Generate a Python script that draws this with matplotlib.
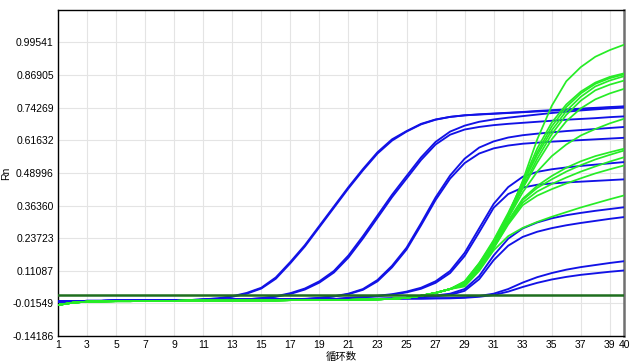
import numpy as np
import matplotlib
matplotlib.use('Agg')
import matplotlib.pyplot as plt

plt.rcParams['font.family'] = ['Liberation Sans', 'Noto Sans CJK SC', 'DejaVu Sans']

cycles = list(range(1, 41))
xticks = [1, 3, 5, 7, 9, 11, 13, 15, 17, 19, 21, 23, 25, 27, 29, 31, 33, 35, 37, 39, 40]
ytick_labels = ['-0.14186', '-0.01549', '0.11087', '0.23723', '0.36360',
                '0.48996', '0.61632', '0.74269', '0.86905', '0.99541']
threshold = 0.016

# baseline before amplification (cycles 1..30)
blue_base = [-0.008, -0.007, -0.006, -0.006, -0.005, -0.005, -0.004, -0.004, -0.003, -0.003,
             -0.002, -0.002, -0.001, -0.001, 0.0, 0.0, 0.0, 0.001, 0.001, 0.001,
             0.002, 0.002, 0.002, 0.003, 0.003, 0.003, 0.004, 0.004, 0.004, 0.005]
green_base = [-0.022, -0.013, -0.009, -0.008, -0.007, -0.007, -0.006, -0.006, -0.006, -0.005,
              -0.005, -0.005, -0.005, -0.004, -0.004, -0.004, -0.003, -0.003, -0.003, -0.002,
              -0.002, -0.001, 0.0, 0.002, 0.006, 0.014, 0.025, 0.04]

# standards (blue), amplified part from the given cycle on
std1a = blue_base[:10] + [0.0, 0.004, 0.012, 0.025, 0.045, 0.085, 0.145, 0.21, 0.285, 0.36,
                          0.435, 0.505, 0.57, 0.62, 0.652, 0.68, 0.697, 0.707, 0.713, 0.716,
                          0.719, 0.722, 0.725, 0.728, 0.731, 0.734, 0.737, 0.74, 0.743, 0.746]
std1b = blue_base[:10] + [0.0, 0.003, 0.01, 0.022, 0.042, 0.08, 0.14, 0.205, 0.28, 0.355,
                          0.43, 0.5, 0.565, 0.615, 0.65, 0.678, 0.696, 0.707, 0.713, 0.717,
                          0.72, 0.723, 0.726, 0.73, 0.733, 0.736, 0.739, 0.742, 0.745, 0.748]
std2a = blue_base[:13] + [0.0, 0.005, 0.012, 0.024, 0.042, 0.07, 0.11, 0.17, 0.245, 0.325,
                          0.405, 0.478, 0.55, 0.61, 0.65, 0.673, 0.688, 0.697, 0.704, 0.71,
                          0.716, 0.722, 0.727, 0.732, 0.736, 0.74, 0.743]
std2b = blue_base[:13] + [0.0, 0.004, 0.01, 0.021, 0.038, 0.065, 0.104, 0.162, 0.236, 0.316,
                          0.396, 0.468, 0.54, 0.6, 0.638, 0.658, 0.668, 0.675, 0.68, 0.684,
                          0.688, 0.692, 0.696, 0.699, 0.702, 0.706, 0.709]
std3a = blue_base[:17] + [0.002, 0.006, 0.012, 0.022, 0.04, 0.075, 0.13, 0.2, 0.295, 0.395,
                          0.48, 0.545, 0.588, 0.612, 0.627, 0.636, 0.642, 0.647, 0.652, 0.656,
                          0.66, 0.664, 0.668]
std3b = blue_base[:17] + [0.001, 0.005, 0.011, 0.02, 0.037, 0.07, 0.124, 0.193, 0.287, 0.385,
                          0.468, 0.528, 0.565, 0.585, 0.596, 0.603, 0.607, 0.611, 0.614, 0.617,
                          0.62, 0.623, 0.626]
std4a = blue_base[:20] + [0.006, 0.009, 0.014, 0.02, 0.03, 0.045, 0.07, 0.11, 0.18, 0.275,
                          0.37, 0.435, 0.475, 0.494, 0.504, 0.511, 0.517, 0.522, 0.527, 0.532]
std4b = blue_base[:20] + [0.005, 0.008, 0.012, 0.018, 0.027, 0.041, 0.064, 0.102, 0.168, 0.26,
                          0.355, 0.408, 0.433, 0.444, 0.449, 0.453, 0.456, 0.459, 0.462, 0.465]
std5a = blue_base[:24] + [0.006, 0.01, 0.015, 0.022, 0.04, 0.09, 0.17, 0.235, 0.275, 0.298,
                          0.314, 0.326, 0.335, 0.343, 0.35, 0.357]
std5b = blue_base[:24] + [0.005, 0.008, 0.012, 0.017, 0.033, 0.078, 0.152, 0.208, 0.242, 0.262,
                          0.276, 0.287, 0.296, 0.304, 0.312, 0.319]
std6a = blue_base[:27] + [0.005, 0.008, 0.013, 0.022, 0.04, 0.065, 0.086, 0.102, 0.115, 0.125,
                          0.133, 0.141, 0.148]
std6b = blue_base[:27] + [0.004, 0.006, 0.01, 0.017, 0.03, 0.048, 0.064, 0.077, 0.087, 0.095,
                          0.101, 0.107, 0.112]

# samples (green), from cycle 29 on
smp1 = green_base + [0.07, 0.14, 0.22, 0.32, 0.46, 0.62, 0.75, 0.845, 0.9, 0.94, 0.966, 0.987]
smp2 = green_base + [0.065, 0.135, 0.225, 0.33, 0.455, 0.585, 0.685, 0.755, 0.805, 0.84, 0.862, 0.876]
smp3 = green_base + [0.06, 0.13, 0.22, 0.325, 0.445, 0.57, 0.67, 0.745, 0.798, 0.835, 0.857, 0.872]
smp4 = green_base + [0.068, 0.14, 0.23, 0.335, 0.45, 0.56, 0.655, 0.73, 0.785, 0.825, 0.848, 0.865]
smp5 = green_base + [0.062, 0.13, 0.22, 0.32, 0.435, 0.545, 0.64, 0.715, 0.77, 0.81, 0.832, 0.848]
smp6 = green_base + [0.064, 0.132, 0.222, 0.322, 0.43, 0.53, 0.62, 0.69, 0.74, 0.775, 0.798, 0.816]
smp7 = green_base + [0.06, 0.125, 0.215, 0.315, 0.415, 0.495, 0.555, 0.6, 0.635, 0.66, 0.682, 0.7]
smp8 = green_base + [0.058, 0.12, 0.21, 0.305, 0.39, 0.44, 0.478, 0.51, 0.535, 0.555, 0.57, 0.584]
smp9 = green_base + [0.057, 0.118, 0.205, 0.3, 0.385, 0.432, 0.465, 0.495, 0.52, 0.542, 0.56, 0.577]
smp10 = green_base + [0.056, 0.116, 0.2, 0.295, 0.375, 0.418, 0.447, 0.472, 0.495, 0.515, 0.534, 0.551]
smp11 = green_base + [0.055, 0.114, 0.198, 0.29, 0.365, 0.402, 0.427, 0.449, 0.469, 0.488, 0.504, 0.519]
smp12 = green_base + [0.05, 0.11, 0.19, 0.245, 0.277, 0.3, 0.32, 0.338, 0.356, 0.372, 0.388, 0.403]

standards = [std1a, std1b, std2a, std2b, std3a, std3b, std4a, std4b, std5a, std5b, std6a, std6b]
samples = [smp1, smp2, smp3, smp4, smp5, smp6, smp7, smp8, smp9, smp10, smp11, smp12]

fig = plt.figure(figsize=(6.4, 3.64), dpi=100)
ax = fig.add_axes([0.0906, 0.077, 0.885, 0.896])

for Y in standards:
    ax.plot(cycles, Y, color='#1212e6', lw=1.35, zorder=3)
for Y in samples:
    ax.plot(cycles, Y, color='#26ec26', lw=1.25, zorder=4)
ax.axhline(threshold, color='#1e6e1e', lw=1.8, zorder=5)

yticks = [float(s) for s in ytick_labels]
ax.set_xlim(1, 40)
ax.set_ylim(-0.14186, 1.12177)
ax.set_xticks(xticks)
ax.set_yticks(yticks)
ax.set_yticklabels(ytick_labels)
ax.tick_params(length=0, labelsize=7.5, pad=3)
ax.grid(True, color='#e4e4e4', lw=0.8, zorder=0)
ax.set_axisbelow(True)
for s in ['left', 'bottom', 'top']:
    ax.spines[s].set_color('black')
    ax.spines[s].set_linewidth(1.0)
ax.spines['right'].set_color('#707070')
ax.spines['right'].set_linewidth(1.8)

ax.set_xlabel('循环数', fontsize=7.5, labelpad=1, family=['Noto Sans CJK SC', 'DejaVu Sans'])
ax.set_ylabel('Rn', fontsize=7.5)
ax.yaxis.set_label_coords(-0.083, 0.5)

plt.savefig('out.png', dpi=100)
